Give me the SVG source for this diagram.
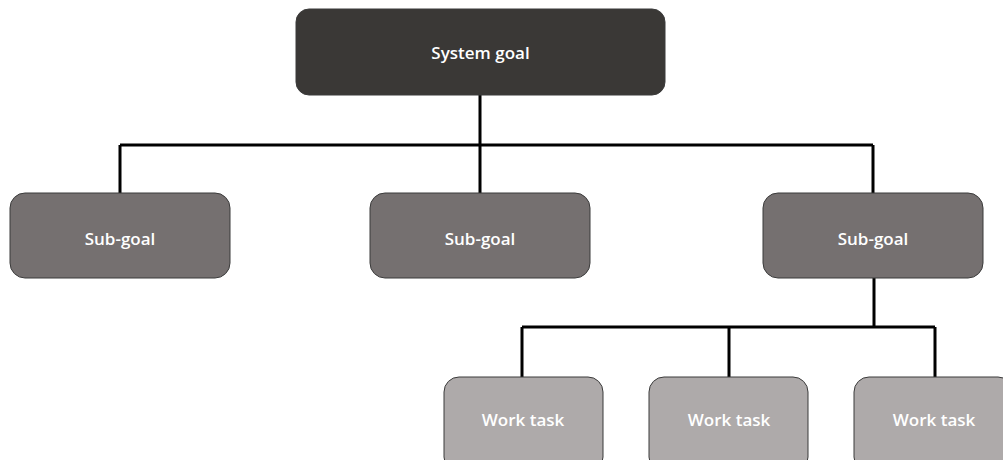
<svg xmlns="http://www.w3.org/2000/svg" width="1003" height="460" viewBox="0 0 1003 460">
  <style>
    .box { stroke: #3b3b3b; stroke-width: 1; }
    .top { fill: #3a3836; }
    .sub { fill: #757070; }
    .task { fill: #aeaaaa; }
    .lbl { font-family: "Open Sans", "Liberation Sans", sans-serif; font-size: 17px; font-weight: 600; fill: #ffffff; text-anchor: middle; }
    .wire { fill: none; stroke: #000000; stroke-width: 3; }
  </style>
  <rect width="1003" height="460" fill="#ffffff"/>
  <g id="connectors">
    <path class="wire" d="M480 95 V145 M120 145 H873 M120 145 V193 M480 145 V193 M873 145 V193"/>
    <path class="wire" d="M874 278 V327 M522 327 H935 M522 327 V377 M729 327 V377 M935 327 V377"/>
  </g>
  <g id="system-goal">
    <rect class="box top" x="296" y="9" width="369" height="86" rx="13"/>
    <text class="lbl" x="480.5" y="59">System goal</text>
  </g>
  <g id="sub-goal-1">
    <rect class="box sub" x="10" y="193" width="220" height="85" rx="15"/>
    <text class="lbl" x="120" y="245">Sub-goal</text>
  </g>
  <g id="sub-goal-2">
    <rect class="box sub" x="370" y="193" width="220" height="85" rx="15"/>
    <text class="lbl" x="480" y="245">Sub-goal</text>
  </g>
  <g id="sub-goal-3">
    <rect class="box sub" x="763" y="193" width="220" height="85" rx="15"/>
    <text class="lbl" x="873" y="245">Sub-goal</text>
  </g>
  <g id="work-task-1">
    <rect class="box task" x="444" y="377" width="159" height="95" rx="15"/>
    <text class="lbl" x="523" y="426">Work task</text>
  </g>
  <g id="work-task-2">
    <rect class="box task" x="649" y="377" width="159" height="95" rx="15"/>
    <text class="lbl" x="729" y="426">Work task</text>
  </g>
  <g id="work-task-3">
    <rect class="box task" x="854" y="377" width="159" height="95" rx="15"/>
    <text class="lbl" x="934" y="426">Work task</text>
  </g>
</svg>
